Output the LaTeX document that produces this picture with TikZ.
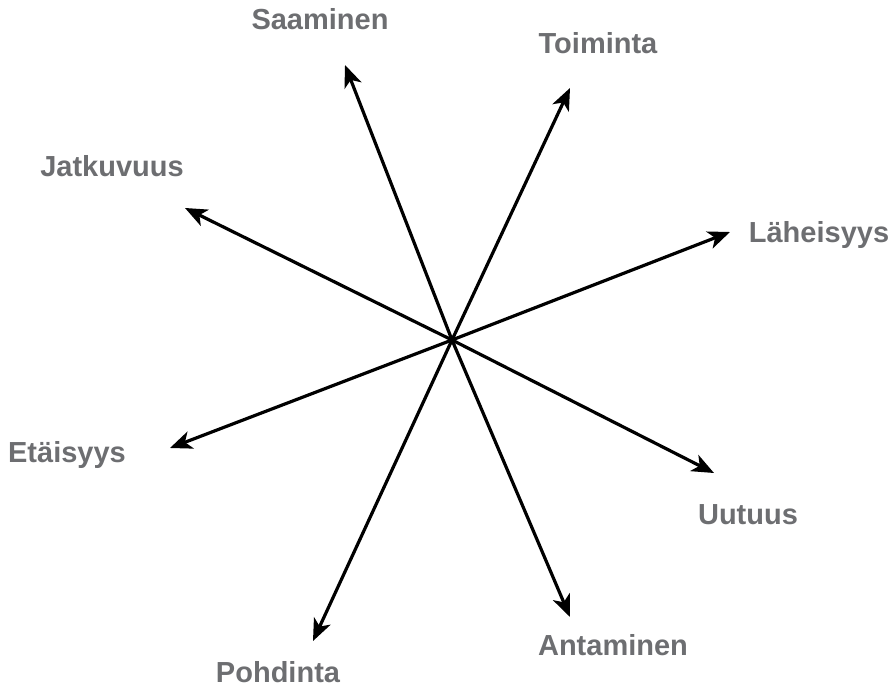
\documentclass[tikz,border=0pt]{standalone}
\usepackage{fontspec}
\setmainfont{Liberation Sans}
\usetikzlibrary{arrows.meta}
\definecolor{labelgray}{HTML}{6D6E71}
\begin{document}
\begin{tikzpicture}[x=1pt,y=-1pt,
  lbl/.style={font=\fontsize{29}{32}\selectfont\bfseries, text=labelgray, anchor=base, inner sep=0pt},
  arr/.style={line width=3.2pt, -{Stealth[length=22pt,width=18pt,inset=6pt]}}]
\useasboundingbox (0,0) rectangle (889,687);
\coordinate (c) at (452,340);
\coordinate (tSaa) at (345,65);
\coordinate (tToi) at (570,88);
\coordinate (tLah) at (730,232);
\coordinate (tJat) at (185,208);
\coordinate (tEta) at (170,448);
\coordinate (tUut) at (714,473);
\coordinate (tAnt) at (570,617);
\coordinate (tPoh) at (313,641);
\node[lbl] (Saa) at (320,30) {Saaminen};
\node[lbl] (Toi) at (598,54) {Toiminta};
\node[lbl] (Lah) at (819,243) {Läheisyys};
\node[lbl] (Jat) at (112,177) {Jatkuvuus};
\node[lbl] (Eta) at (67,462) {Etäisyys};
\node[lbl] (Uut) at (748,524) {Uutuus};
\node[lbl] (Ant) at (613,655) {Antaminen};
\node[lbl] (Poh) at (278,682) {Pohdinta};
\foreach \t in {tSaa,tToi,tLah,tJat,tEta,tUut,tAnt,tPoh}
  \draw[arr] (c) -- (\t);
\end{tikzpicture}
\end{document}
